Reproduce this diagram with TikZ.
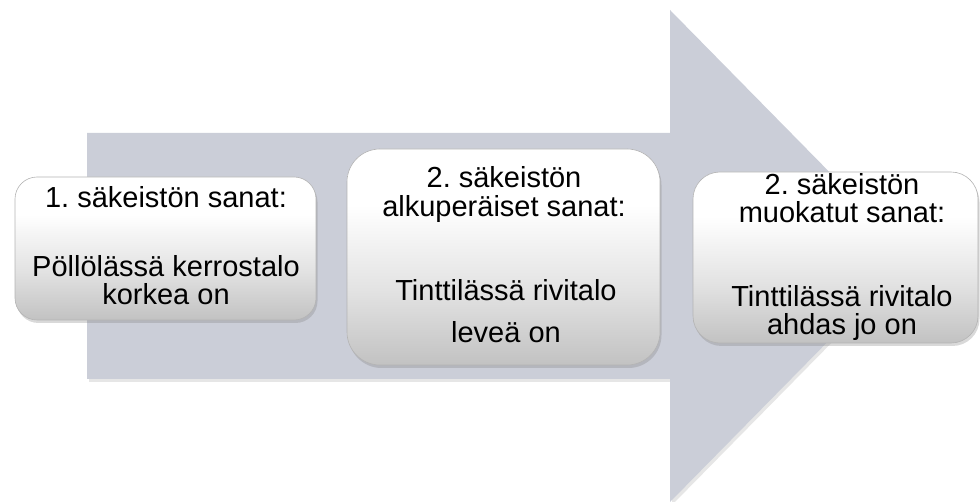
\documentclass[tikz,border=0pt]{standalone}
\usepackage{fontspec}
\setmainfont{Liberation Sans}
\usetikzlibrary{shadows}
\definecolor{arrowfill}{RGB}{203,206,216}
\definecolor{boxbot}{RGB}{194,194,194}
\definecolor{boxmid}{RGB}{226,226,226}
\definecolor{boxline}{RGB}{180,180,180}
\pgfdeclareverticalshading{boxshade}{100bp}{color(0bp)=(boxbot); color(25bp)=(boxbot); color(42bp)=(boxmid); color(62bp)=(white); color(100bp)=(white)}
\begin{document}
\begin{tikzpicture}[x=1pt,y=-1pt,
  box/.style={draw=boxline, line width=0.6pt, shading=boxshade, inner sep=0pt,
    drop shadow={opacity=0.3, shadow xshift=1.5pt, shadow yshift=-3pt}},
  txt/.style={anchor=base, font=\fontsize{29}{30}\selectfont\frenchspacing, text=black, inner sep=0pt}]
\useasboundingbox (0,0) rectangle (980,502);
% big arrow
\fill[arrowfill, drop shadow={opacity=0.2, shadow xshift=2pt, shadow yshift=-3pt}]
  (87,133) -- (670,133) -- (670,10) -- (912,256) -- (670,502) -- (670,379) -- (87,379) -- cycle;
% boxes
\node[box, rounded corners=22pt, minimum width=301pt, minimum height=143pt] (b1) at (165.5,248.5) {};
\node[box, rounded corners=33pt, minimum width=313pt, minimum height=216pt] (b2) at (503.5,257) {};
\node[box, rounded corners=27pt, minimum width=285pt, minimum height=171pt] (b3) at (835.5,257.5) {};
% texts
\node[txt] (t1a) at (166,208) {1. säkeistön sanat:};
\node[txt] (t1b) at (166,277) {Pöllölässä kerrostalo};
\node[txt] (t1c) at (166,305) {korkea on};
\node[txt] (t2a) at (504,188) {2. säkeistön};
\node[txt] (t2b) at (504,217) {alkuperäiset sanat:};
\node[txt] (t2c) at (506,301) {Tinttilässä rivitalo};
\node[txt] (t2d) at (506,343) {leveä on};
\node[txt] (t3a) at (842,195) {2. säkeistön};
\node[txt] (t3b) at (842,223) {muokatut sanat:};
\node[txt] (t3c) at (842,307) {Tinttilässä rivitalo};
\node[txt] (t3d) at (842,335) {ahdas jo on};
\end{tikzpicture}
\end{document}
